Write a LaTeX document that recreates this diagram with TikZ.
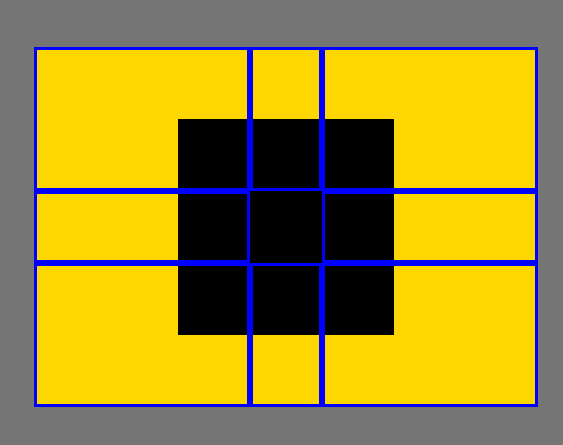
\documentclass[tikz,border=0pt]{standalone}
\usepackage{xcolor}
\definecolor{bgGray}{RGB}{117, 117, 117}
\definecolor{cellGold}{RGB}{255, 215, 0}
\definecolor{edgeBlue}{RGB}{0, 0, 255}

\begin{document}
\begin{tikzpicture}[x=1pt, y=-1pt,
    cellEdge/.style={edgeBlue, line width=3pt}]
        % background
        \fill[bgGray] (0,0) rectangle (563, 445);
        \useasboundingbox (0,0) rectangle (563, 445);

        % patch area
        \fill[cellGold] (34, 47) rectangle (538, 407);

        % dark square
        \fill[black] (178, 119) rectangle (394, 335);

        % cell borders, all but the middle one
        \foreach \xa/\ya/\xb/\yb in {34/47/250/191, 250/47/322/191, 322/47/538/191,
                                     34/191/250/263, 322/191/538/263,
                                     34/263/250/407, 250/263/322/407, 322/263/538/407}
          \draw[cellEdge] (\xa+1.5, \ya+1.5) rectangle (\xb-1.5, \yb-1.5);
      \end{tikzpicture}
\end{document}
